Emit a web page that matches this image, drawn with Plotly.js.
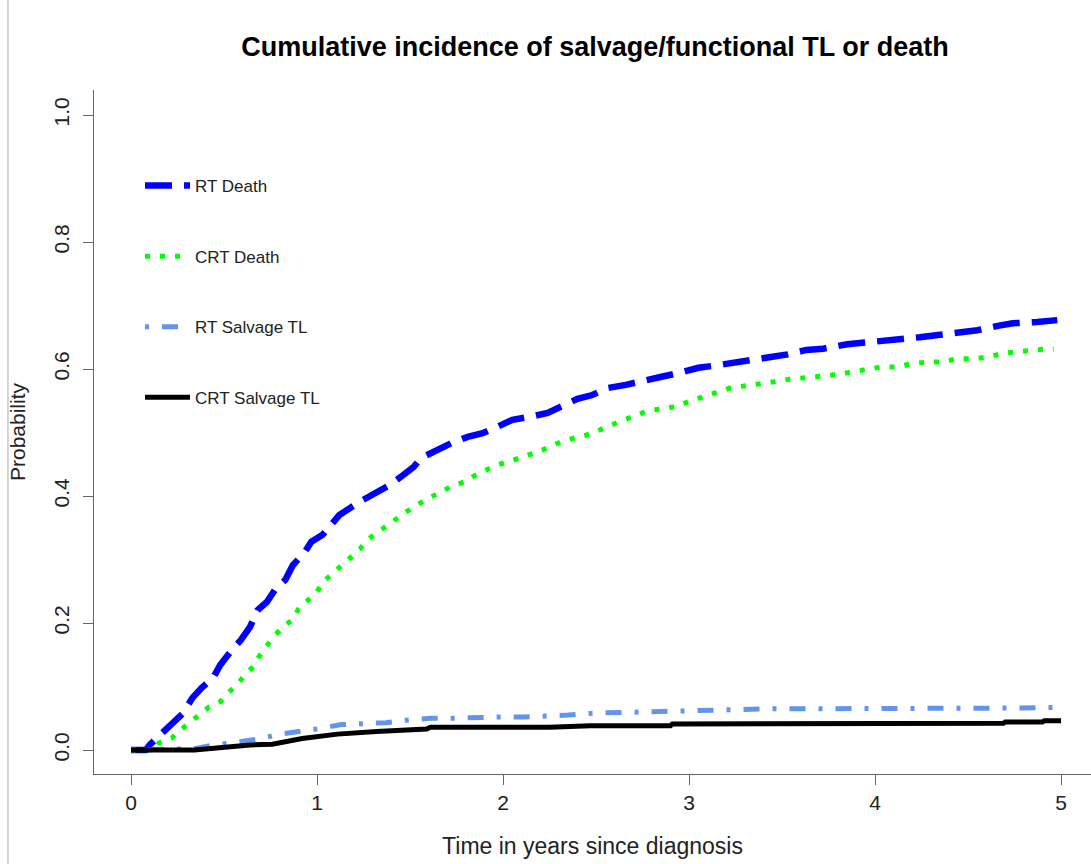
<!DOCTYPE html>
<html>
<head>
<meta charset="utf-8">
<script src="https://cdn.plot.ly/plotly-3.0.1.min.js"></script>
<style>html,body{margin:0;padding:0;background:#fff;}#chart{width:1091px;height:864px;}</style>
</head>
<body>
<div id="chart"></div>
<script>
// ---- data ----
const seriesNames = ["RT Death", "CRT Death", "RT Salvage TL", "CRT Salvage TL"];

const rtDeathT = [0, 0.08, 0.10, 0.17, 0.23, 0.28, 0.33, 0.38, 0.44, 0.48, 0.53, 0.59, 0.64, 0.68, 0.73, 0.78, 0.83, 0.87, 0.93, 0.97, 1.03, 1.09, 1.12, 1.23, 1.30, 1.39, 1.45, 1.52, 1.56, 1.64, 1.72, 1.81, 1.89, 1.97, 2.05, 2.15, 2.24, 2.32, 2.40, 2.48, 2.56, 2.66, 2.75, 2.84, 2.95, 3.05, 3.13, 3.24, 3.34, 3.44, 3.53, 3.63, 3.72, 3.85, 3.94, 4.04, 4.13, 4.24, 4.35, 4.46, 4.55, 4.66, 4.74, 4.87, 4.98];
const rtDeathP = [0, 0, 0.008, 0.027, 0.044, 0.058, 0.082, 0.098, 0.113, 0.134, 0.153, 0.173, 0.194, 0.220, 0.233, 0.255, 0.268, 0.291, 0.310, 0.328, 0.339, 0.359, 0.370, 0.391, 0.402, 0.417, 0.430, 0.446, 0.460, 0.472, 0.483, 0.493, 0.499, 0.509, 0.520, 0.525, 0.531, 0.542, 0.553, 0.559, 0.570, 0.575, 0.580, 0.587, 0.594, 0.602, 0.605, 0.610, 0.612, 0.619, 0.623, 0.630, 0.632, 0.639, 0.641, 0.644, 0.647, 0.650, 0.654, 0.657, 0.661, 0.668, 0.672, 0.674, 0.677];

const crtDeathT = [0, 0.13, 0.15, 0.22, 0.26, 0.32, 0.37, 0.42, 0.48, 0.52, 0.57, 0.61, 0.66, 0.69, 0.73, 0.77, 0.82, 0.87, 0.90, 0.95, 1.00, 1.03, 1.08, 1.13, 1.18, 1.23, 1.27, 1.32, 1.43, 1.48, 1.54, 1.60, 1.66, 1.72, 1.79, 1.84, 1.91, 1.97, 2.04, 2.11, 2.18, 2.25, 2.31, 2.38, 2.45, 2.52, 2.59, 2.65, 2.72, 2.78, 2.86, 2.94, 3.01, 3.08, 3.15, 3.22, 3.29, 3.38, 3.46, 3.54, 3.62, 3.70, 3.79, 3.87, 3.95, 4.03, 4.11, 4.19, 4.28, 4.36, 4.44, 4.53, 4.61, 4.69, 4.77, 4.85, 4.96];
const crtDeathP = [0, 0, 0.011, 0.019, 0.030, 0.044, 0.057, 0.068, 0.076, 0.090, 0.102, 0.118, 0.132, 0.148, 0.164, 0.180, 0.194, 0.206, 0.222, 0.235, 0.249, 0.264, 0.278, 0.290, 0.303, 0.316, 0.331, 0.342, 0.365, 0.375, 0.386, 0.397, 0.405, 0.415, 0.422, 0.431, 0.441, 0.449, 0.455, 0.461, 0.469, 0.477, 0.485, 0.491, 0.496, 0.504, 0.513, 0.520, 0.527, 0.535, 0.537, 0.542, 0.550, 0.556, 0.562, 0.570, 0.573, 0.576, 0.580, 0.584, 0.586, 0.589, 0.591, 0.595, 0.600, 0.603, 0.603, 0.608, 0.611, 0.611, 0.616, 0.616, 0.619, 0.625, 0.627, 0.630, 0.632];

const rtSalvT = [0, 0.34, 0.41, 0.48, 0.59, 0.70, 0.80, 0.92, 1.02, 1.13, 1.25, 1.37, 1.48, 1.61, 1.73, 1.86, 1.98, 2.11, 2.23, 2.35, 2.48, 2.71, 2.96, 3.20, 3.45, 3.70, 3.96, 4.20, 4.46, 4.71, 4.98];
const rtSalvP = [0, 0.002, 0.006, 0.009, 0.013, 0.018, 0.025, 0.029, 0.034, 0.040, 0.041, 0.043, 0.047, 0.050, 0.050, 0.052, 0.052, 0.052, 0.053, 0.055, 0.058, 0.060, 0.062, 0.064, 0.065, 0.065, 0.065, 0.066, 0.066, 0.066, 0.067];

const crtSalvT = [0, 0.34, 0.64, 0.76, 0.92, 1.11, 1.32, 1.59, 1.61, 2.25, 2.47, 2.90, 2.91, 3.19, 3.20, 4.69, 4.70, 4.90, 4.91, 5.00];
const crtSalvP = [0, 0, 0.008, 0.009, 0.018, 0.025, 0.029, 0.033, 0.036, 0.036, 0.038, 0.038, 0.041, 0.041, 0.042, 0.042, 0.044, 0.044, 0.046, 0.046];

const xTickVals = [0, 1, 2, 3, 4, 5];
const xTickText = ["0", "1", "2", "3", "4", "5"];
const yTickVals = [0, 0.2, 0.4, 0.6, 0.8, 1.0];
const yTickText = ["0.0", "0.2", "0.4", "0.6", "0.8", "1.0"];

const titleText = "Cumulative incidence of salvage/functional TL or death";
const xTitle = "Time in years since diagnosis";
const yTitle = "Probability";

// ---- traces ----
const FONT = "Liberation Sans, Arial, sans-serif";
const traces = [
  {x: rtDeathT, y: rtDeathP, name: seriesNames[0], legendgroup: "g1", mode: "lines",
   line: {color: "#0000FF", width: 6.5, dash: "27px,12px"}},
  {x: crtDeathT, y: crtDeathP, name: seriesNames[1], legendgroup: "g2", mode: "lines",
   line: {color: "#00FF00", width: 5, dash: "5px,10px"}},
  {x: rtSalvT, y: rtSalvP, name: seriesNames[2], legendgroup: "g3", mode: "lines",
   line: {color: "#6495ED", width: 5, dash: "4px,13px,16px,13px"}},
  {x: crtSalvT, y: crtSalvP, name: seriesNames[3], legendgroup: "g4", mode: "lines",
   line: {color: "#000000", width: 5}}
];

const axisCommon = {
  showgrid: false, zeroline: false, showline: true, linecolor: "#666", linewidth: 1,
  ticks: "outside", ticklen: 10, tickwidth: 1, tickcolor: "#666",
  tickfont: {family: FONT, size: 21, color: "#222"}
};

const layout = {
  width: 1091, height: 864,
  margin: {l: 94, r: 0, t: 90, b: 90, pad: 0},
  paper_bgcolor: "#fff", plot_bgcolor: "#fff",
  showlegend: true,
  title: {text: titleText, font: {family: FONT, size: 27, color: "#000", weight: "bold"},
          x: 0.5025, xref: "paper", xanchor: "center", y: 1 - 47/864, yref: "container", yanchor: "middle"},
  xaxis: Object.assign({}, axisCommon, {
    range: [-0.199, 5.161], tickmode: "array", tickvals: xTickVals, ticktext: xTickText,
    title: {text: xTitle, font: {family: FONT, size: 23, color: "#222"}, standoff: 24}
  }),
  yaxis: Object.assign({}, axisCommon, {
    range: [-0.0378, 1.0394], tickmode: "array", tickvals: yTickVals, ticktext: yTickText,
    tickangle: -90, ticklabelstandoff: 6,
    title: {text: yTitle, font: {family: FONT, size: 21, color: "#222"}, standoff: 18}
  }),
  legend: {x: (140 - 94) / 997, xanchor: "left", y: 0.886, yanchor: "top", bgcolor: "rgba(0,0,0,0)",
           borderwidth: 0, tracegroupgap: 45.5, itemwidth: 45,
           font: {family: FONT, size: 17, color: "#222"}},
  shapes: [
    {type: "line", xref: "paper", yref: "paper", x0: -0.0863, x1: -0.0863, y0: -0.14, y1: 1.14,
     line: {color: "#aaa", width: 1}}
  ]
};

Plotly.newPlot("chart", traces, layout, {displayModeBar: false, staticPlot: true});
</script>
</body>
</html>
